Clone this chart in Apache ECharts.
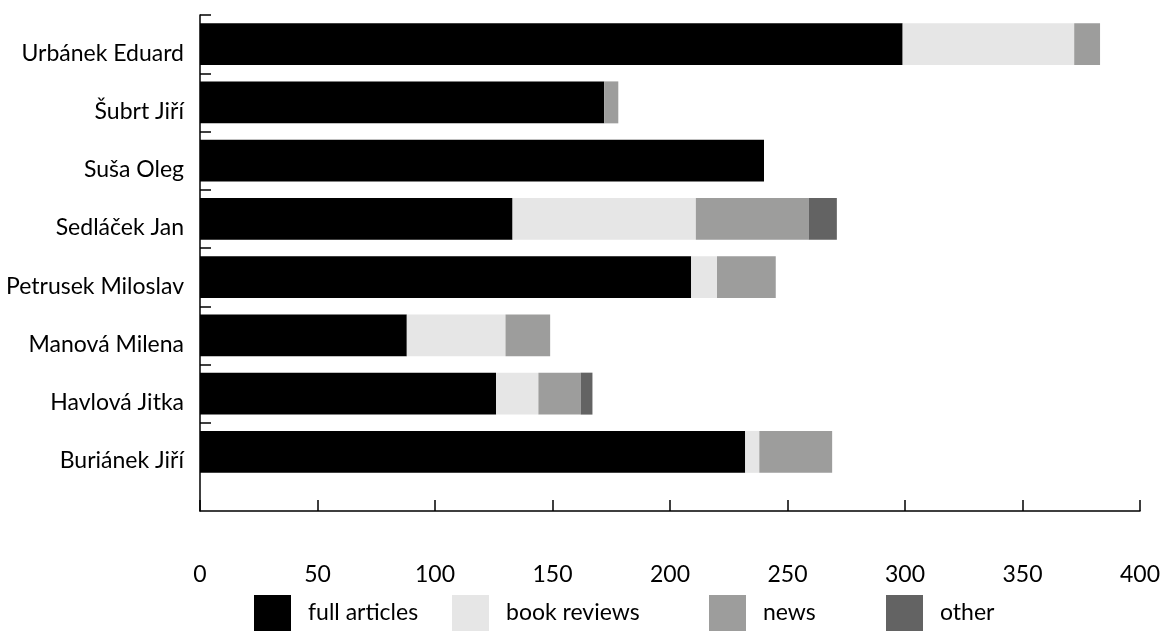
<!DOCTYPE html>
<html>
<head>
<meta charset="utf-8">
<script src="https://cdn.jsdelivr.net/npm/echarts@6/dist/echarts.min.js"></script>
<style>
html,body{margin:0;padding:0;background:#fff;}
#chart{width:1168px;height:632px;}
</style>
</head>
<body>
<div id="chart"></div>
<script>
// Categories listed bottom-to-top
const categories = ['Buriánek Jiří', 'Havlová Jitka', 'Manová Milena', 'Petrusek Miloslav', 'Sedláček Jan', 'Suša Oleg', 'Šubrt Jiří', 'Urbánek Eduard'];
const fullArticles = [232, 126, 88, 209, 133, 240, 172, 299];
const bookReviews  = [6, 18, 42, 11, 78, 0, 0, 73];
const news         = [31, 18, 19, 25, 48, 0, 6, 11];
const other        = [0, 5, 0, 0, 12, 0, 0, 0];
const seriesNames = ['full articles', 'book reviews', 'news', 'other'];
const seriesColors = ['#000000', '#e6e6e6', '#9d9d9c', '#636363'];
const xTicks = [0, 50, 100, 150, 200, 250, 300, 350, 400];

const FONT = 'Lato';
const values = [fullArticles, bookReviews, news, other];
const legendLeft = [254, 452, 709, 886];

const chart = echarts.init(document.getElementById('chart'), null, {renderer: 'canvas'});
const option = {
  animation: false,
  backgroundColor: '#ffffff',
  textStyle: {fontFamily: FONT, color: '#000'},
  grid: [
    {left: 200, width: 940, top: 15, height: 466, containLabel: false},
    {left: 200, width: 940, top: 15, height: 496, containLabel: false}
  ],
  xAxis: [
    {type: 'value', gridIndex: 0, min: xTicks[0], max: xTicks[xTicks.length-1], interval: 50, show: false},
    {type: 'value', gridIndex: 1, min: xTicks[0], max: xTicks[xTicks.length-1], interval: 50,
     axisLine: {show: true, lineStyle: {color: '#000', width: 1.5}},
     axisTick: {show: true, inside: true, length: 11, lineStyle: {color: '#000', width: 1.5}},
     axisLabel: {show: true, margin: 52, fontSize: 23, fontFamily: FONT, color: '#000',
                 formatter: v => String(v)},
     splitLine: {show: false}}
  ],
  yAxis: [
    {type: 'category', gridIndex: 0, data: categories,
     axisLine: {show: false},
     axisTick: {show: true, inside: true, length: 11, lineStyle: {color: '#000', width: 1.5},
                interval: (i) => i !== 0},
     axisLabel: {show: true, margin: 16, fontSize: 23, fontFamily: FONT, color: '#000',
                 verticalAlign: 'top', lineHeight: 18},
     splitLine: {show: false}},
    {type: 'value', gridIndex: 1, min: 0, max: 1,
     axisLine: {show: true, lineStyle: {color: '#000', width: 1.5}},
     axisTick: {show: false}, axisLabel: {show: false}, splitLine: {show: false}}
  ],
  legend: seriesNames.map((n, i) => ({
    data: [n],
    left: legendLeft[i],
    top: 595,
    padding: 0,
    itemWidth: 37,
    itemHeight: 36,
    itemGap: 0,
    icon: 'rect',
    selectedMode: false,
    textStyle: {fontFamily: FONT, fontSize: 23, color: '#000', padding: [0, 0, 0, 12]}
  })),
  series: seriesNames.map((n, i) => ({
    name: n,
    type: 'bar',
    stack: 'total',
    xAxisIndex: 0,
    yAxisIndex: 0,
    barCategoryGap: '28%',
    itemStyle: {color: seriesColors[i]},
    data: values[i]
  }))
};
chart.setOption(option);
</script>
</body>
</html>
